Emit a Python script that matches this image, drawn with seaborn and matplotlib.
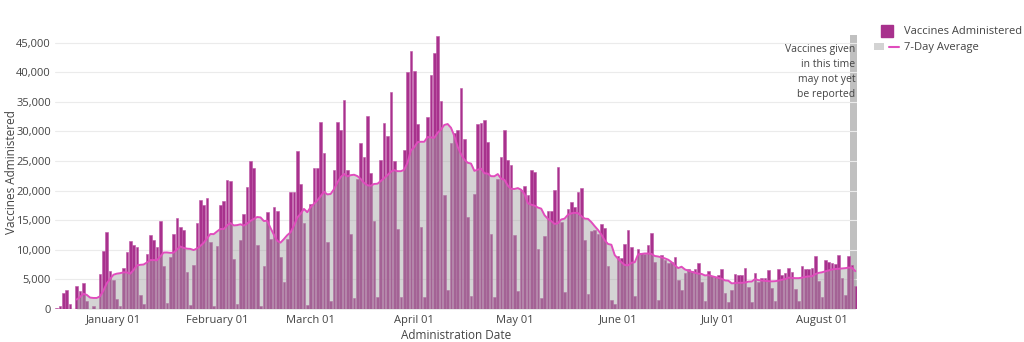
import numpy as np
import pandas as pd
import matplotlib
matplotlib.use("Agg")
import matplotlib.pyplot as plt
import seaborn as sns
from matplotlib.lines import Line2D
from matplotlib.patches import Patch
from matplotlib.legend_handler import HandlerTuple
from matplotlib.ticker import FuncFormatter

# ---------------- data ----------------
start_date = "2020-12-15"
vaccines = [
    # Dec 15 - Dec 31
    100, 450, 2700, 3200, 900, 0, 3900, 3000, 4400, 1300, 0, 450, 0, 5900, 9800, 13000, 6500,
    # January
    4900, 1700, 560, 6900, 9700, 11500, 10800, 10400, 2400, 900, 9300, 12500, 11600, 10400,
    14900, 7200, 1000, 8800, 12700, 15400, 13900, 13300, 6300, 700, 7400, 14600, 18400, 17500,
    18800, 11300, 560,
    # February
    10600, 17500, 18300, 21800, 21600, 8500, 900, 11600, 16000, 20600, 25000, 23900, 10800, 450,
    7300, 16400, 11900, 17200, 16500, 8800, 4600, 11900, 19800, 19800, 26700, 21100, 14500, 700,
    # March
    17800, 23900, 23800, 31600, 26400, 11300, 1300, 23500, 31600, 30300, 35400, 23500, 12700, 1800,
    21900, 28100, 25700, 32600, 23000, 14800, 2100, 25100, 31500, 29200, 36600, 25000, 13500, 2100,
    26800, 40000, 43600,
    # April
    40200, 31200, 13900, 2100, 32400, 39500, 43200, 46100, 35100, 19300, 3200, 28000, 29800, 30300,
    37400, 28700, 15600, 2200, 19400, 31200, 31500, 32000, 28200, 12600, 2100, 22000, 25700, 30200,
    25200, 24300,
    # May
    12500, 3100, 20100, 20700, 19200, 23500, 23200, 10200, 1800, 12300, 16500, 16500, 20100, 24000,
    14700, 2800, 16900, 18100, 17200, 19700, 20500, 11700, 2500, 13100, 13300, 12700, 14300, 13700,
    7300, 1600, 900,
    # June
    8900, 8700, 10900, 13300, 10400, 2200, 10200, 9400, 9300, 10800, 12800, 8000, 1600, 9200,
    8200, 7700, 8000, 8800, 4900, 3200, 6000, 6700, 6400, 6800, 7800, 4600, 1400, 6400, 5500, 5400,
    # July
    5700, 6700, 2700, 1100, 3200, 5900, 5700, 5700, 7000, 3800, 1200, 6100, 4600, 5300, 5300,
    6600, 3600, 1400, 6700, 5700, 6100, 7000, 6300, 3300, 1400, 7200, 6700, 6700, 7000, 8900, 4800,
    # August 1 - 11
    2100, 8300, 7900, 7700, 7600, 9200, 5200, 2400, 9000, 7500, 3900,
]
tick_dates = ["2021-01-01", "2021-02-01", "2021-03-01", "2021-04-01",
              "2021-05-01", "2021-06-01", "2021-07-01", "2021-08-01"]
tick_labels = ["January 01", "February 01", "March 01", "April 01",
               "May 01", "June 01", "July 01", "August 01"]
y_ticks = [0, 5000, 10000, 15000, 20000, 25000, 30000, 35000, 40000, 45000]
lag_start_date = "2021-08-09"
note_lines = ["Vaccines given", "in this time", "may not yet", "be reported"]

# ---------------- styles ----------------
BAR = "#a8318d"
BAR_EDGE = "#bd55a5"
LINE = "#e04dbd"
FILL = "#a0a0a0"
BAND = "#c0c0c0"
TXT = "#444444"

dates = pd.date_range(start_date, periods=len(vaccines), freq="D")
df = pd.DataFrame({"date": dates, "day": np.arange(len(dates)), "vaccines": vaccines})
df["avg7"] = df["vaccines"].rolling(7).mean()
n = len(df)

sns.set_theme(style="white")
plt.rcParams["font.family"] = ["Open Sans", "DejaVu Sans"]

fig = plt.figure(figsize=(10.24, 3.42), dpi=100)
ax = fig.add_axes([55 / 1024, 1 - 309 / 342, 802 / 1024, 274 / 342])

lag_idx = int(np.where(dates == pd.Timestamp(lag_start_date))[0][0])
ax.axvspan(lag_idx + 0.4, n - 0.5, color=BAND, lw=0, zorder=0.5)

sns.barplot(data=df, x="day", y="vaccines", native_scale=True, color=BAR, saturation=1,
            width=0.8, edgecolor=BAR_EDGE, linewidth=0.4, errorbar=None, ax=ax, zorder=2)
ax.fill_between(df["day"], 0, df["avg7"], color=FILL, alpha=0.45, lw=0, zorder=3)
sns.lineplot(data=df, x="day", y="avg7", color=LINE, lw=1.4, ax=ax, zorder=4)

ax.set_xlim(-0.5, n - 0.5)
ax.set_ylim(0, 46300)
for s in ax.spines.values():
    s.set_visible(False)
ax.yaxis.grid(True, color="#ebebeb", lw=0.8)
ax.xaxis.grid(False)
ax.set_axisbelow(True)
ax.axhline(0, color="#cfcfcf", lw=1, zorder=1)

ax.set_yticks(y_ticks)
ax.yaxis.set_major_formatter(FuncFormatter(lambda v, p: f"{int(v):,}"))
tick_pos = [int(np.where(dates == pd.Timestamp(d))[0][0]) for d in tick_dates]
ax.set_xticks(tick_pos)
ax.set_xticklabels(tick_labels)
ax.tick_params(axis="both", length=0, labelsize=8, labelcolor=TXT)
ax.tick_params(axis="x", pad=4)
ax.tick_params(axis="y", pad=3)
ax.set_xlabel("Administration Date", fontsize=8.5, color=TXT)
ax.set_ylabel("Vaccines Administered", fontsize=8.5, color=TXT)
ax.xaxis.set_label_coords(0.5, -(329 - 309) / 274)
ax.yaxis.set_label_coords(-(55 - 18) / 802, 0.5)

ax.text(0.998, 44700, "\n".join(note_lines), transform=ax.get_yaxis_transform(),
        ha="right", va="top", fontsize=7.5, color=TXT, linespacing=1.5, zorder=5)

h_bar = Line2D([], [], marker="s", linestyle="none", markersize=8,
               markerfacecolor=BAR, markeredgecolor=BAR)
h_avg = (Patch(facecolor="#d3d3d3", edgecolor="none"), Line2D([], [], color=LINE, lw=1.5))
fig.legend([h_bar, h_avg], ["Vaccines Administered", "7-Day Average"],
           handler_map={tuple: HandlerTuple(ndivide=None)},
           loc="upper left", bbox_to_anchor=(870 / 1024, 1 - 22 / 342),
           frameon=False, fontsize=8, labelcolor=TXT, handlelength=2.2,
           handletextpad=0.5, labelspacing=0.45, borderaxespad=0)

fig.savefig("out.png", dpi=100)
